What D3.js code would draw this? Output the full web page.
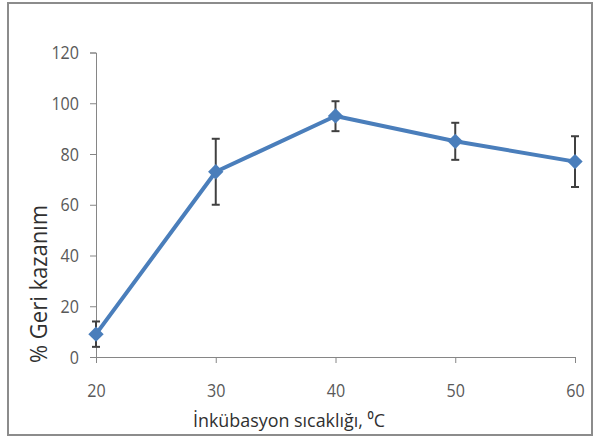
<!DOCTYPE html>
<html><head><meta charset="utf-8">
<script src="https://cdn.jsdelivr.net/npm/d3@7"></script>
<style>body{margin:0;background:#fff}svg{display:block}</style>
</head><body>
<script>
const temps = [20, 30, 40, 50, 60];
const recovery = [9, 73, 95, 85, 77];
const errUp = [5, 13, 5.8, 7.3, 10];
const errDown = [5, 13, 6, 7.3, 10];
const yTicks = [0, 20, 40, 60, 80, 100, 120];
const xTicks = [20, 30, 40, 50, 60];

const W = 595, H = 438;
const svg = d3.select("body").append("svg").attr("width", W).attr("height", H);
const font = "'Open Sans', sans-serif";

svg.append("rect").attr("x", 8).attr("y", 3).attr("width", 584).attr("height", 432)
  .attr("fill", "#fff").attr("stroke", "#8c8c8c").attr("stroke-width", 2);

const x = d3.scaleLinear().domain([20, 60]).range([96, 575]);
const y = d3.scaleLinear().domain([0, 120]).range([357, 52.5]);

const yAxis = svg.append("g").attr("transform", "translate(96,0)")
  .call(d3.axisLeft(y).tickValues(yTicks).tickSize(6).tickPadding(11));
const xAxis = svg.append("g").attr("transform", "translate(0,357)")
  .call(d3.axisBottom(x).tickValues(xTicks).tickSize(6).tickPadding(21));
[yAxis, xAxis].forEach(g => {
  g.select(".domain").attr("stroke", "#868686");
  g.selectAll(".tick line").attr("stroke", "#868686");
  g.selectAll(".tick text").attr("fill", "#595959").attr("font-family", font).attr("font-size", 19)
    .attr("lengthAdjust", "spacingAndGlyphs")
    .attr("textLength", function () { return this.textContent.length * 9.2; });
});

const line = d3.line().x((d, i) => x(temps[i])).y(d => y(d));
svg.append("path").datum(recovery).attr("d", line)
  .attr("fill", "none").attr("stroke", "#4a7ebb").attr("stroke-width", 4).attr("stroke-linejoin", "round");

const eb = svg.append("g").attr("stroke", "#404040").attr("stroke-width", 2);
recovery.forEach((v, i) => {
  const cx = x(temps[i]);
  const y1 = y(v + errUp[i]), y2 = y(v - errDown[i]);
  eb.append("line").attr("x1", cx).attr("x2", cx).attr("y1", y1).attr("y2", y2);
  eb.append("line").attr("x1", cx - 4).attr("x2", cx + 4).attr("y1", y1).attr("y2", y1);
  eb.append("line").attr("x1", cx - 4).attr("x2", cx + 4).attr("y1", y2).attr("y2", y2);
});

svg.append("g").selectAll("path").data(recovery).join("path")
  .attr("transform", (d, i) => `translate(${x(temps[i])},${y(d)})`)
  .attr("d", d3.symbol(d3.symbolDiamond2, 150)())
  .attr("fill", "#4a7ebb");

svg.append("text").attr("x", 289).attr("y", 427).attr("text-anchor", "middle")
  .attr("font-family", font).attr("font-size", 19).attr("fill", "#303030")
  .attr("textLength", 192).attr("lengthAdjust", "spacingAndGlyphs")
  .text("İnkübasyon sıcaklığı, ⁰C");
svg.append("text").attr("transform", "translate(47,284) rotate(-90)").attr("text-anchor", "middle")
  .attr("font-family", font).attr("font-size", 23).attr("fill", "#303030")
  .attr("textLength", 158).attr("lengthAdjust", "spacingAndGlyphs")
  .text("% Geri kazanım");
</script>
</body></html>
